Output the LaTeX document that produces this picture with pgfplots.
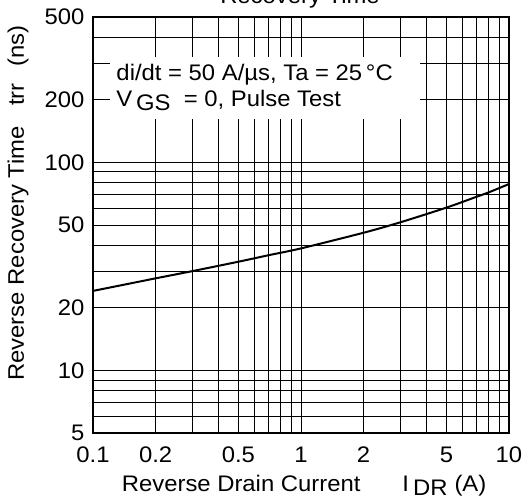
\documentclass[border=0pt]{standalone}
\usepackage{pgfplots}
\pgfplotsset{compat=1.18}
\usepackage{fontspec}
\setmainfont{Liberation Sans}[FakeStretch=1.06]
\begin{document}
\fontsize{22.5bp}{27bp}\selectfont
\begin{tikzpicture}[x=1bp,y=1bp]
\begin{axis}[
  at={(0,0)}, anchor=south west,
  scale only axis, width=416bp, height=416bp,
  xmode=log, ymode=log,
  xmin=0.1, xmax=10, ymin=5, ymax=500,
  xtick={0.1,0.2,0.5,1,2,5,10},
  xticklabels={0.1,0.2,0.5,1,2,5,10},
  ytick={5,10,20,50,100,200,500},
  yticklabels={5,10,20,50,100,200,500},
  minor xtick={0.3,0.4,0.6,0.7,0.8,0.9,3,4,6,7,8,9},
  minor ytick={6,7,8,9,30,40,60,70,80,90,300,400},
  grid=both,
  major grid style={black, line width=0.8bp},
  minor grid style={black, line width=0.8bp},
  major tick length=0pt, minor tick length=0pt,
  axis line style={line width=1.1bp},
  tick label style={font=\fontsize{22.5bp}{27bp}\selectfont},
  xticklabel style={yshift=-6bp},
  yticklabel style={xshift=-1bp},
]
\addplot[black, line width=2bp, smooth] coordinates {
  (0.1,24.1) (0.2,27.7) (0.3,30.0) (0.5,33.3) (0.7,35.8) (1,38.6)
  (2,45.9) (3,51.5) (5,60.6) (7,68.4) (8,71.8) (10,78.7)
};
\fill[white] (rel axis cs:0.04,0.755) rectangle (rel axis cs:0.786,0.904);
\node[anchor=base west, inner sep=0] at (rel axis cs:0.056,0.847)
  {di/dt = 50 A/µs, Ta = 25\,°C};
\node[anchor=base west, inner sep=0] at (rel axis cs:0.056,0.784)
  {V\,\raisebox{-4bp}{GS}\ \ = 0, Pulse Test};
\end{axis}
\node[anchor=base, inner sep=0] at (207bp,429bp) {Recovery Time};
\node[anchor=base west, inner sep=0] at (28.7bp,-58bp)
  {Reverse Drain Current\hspace{42bp}I\hspace{4bp}\raisebox{-4bp}{DR}\hspace{7bp}(A)};
\node[anchor=base west, inner sep=0, rotate=90] at (-69bp,52bp)
  {Reverse Recovery Time\hspace{20bp}trr\hspace{17bp}(ns)};
\pgfresetboundingbox
\useasboundingbox (-93bp,-69bp) rectangle (432bp,433bp);
\end{tikzpicture}
\end{document}
